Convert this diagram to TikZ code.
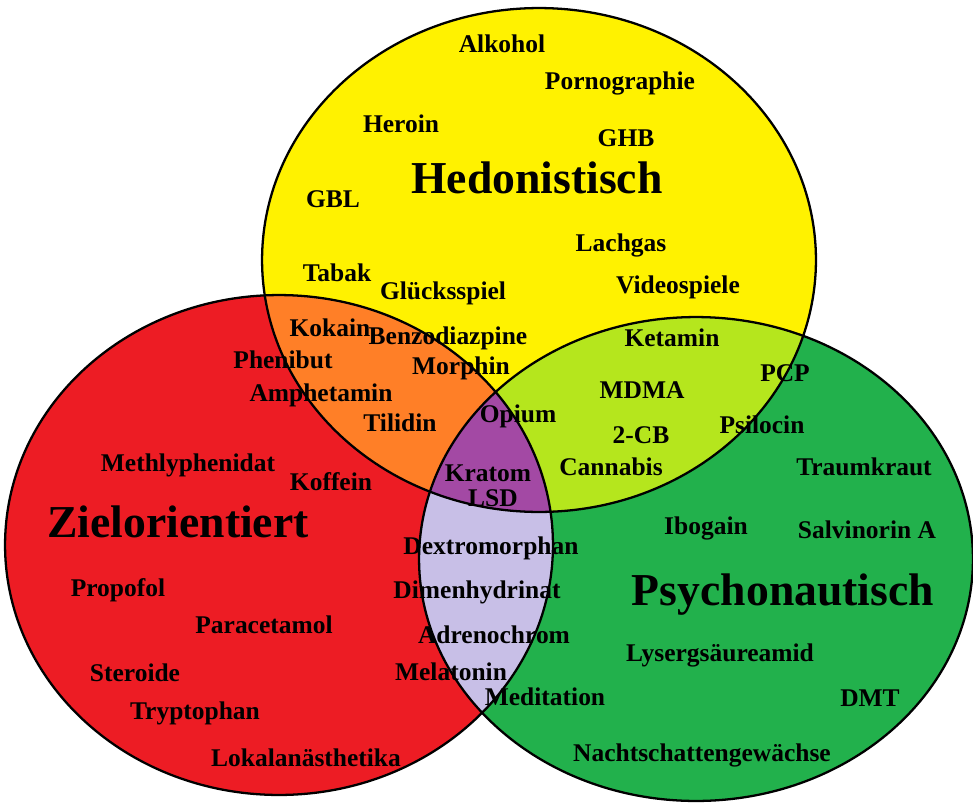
\documentclass[tikz,border=0pt]{standalone}
\usepackage{fontspec}
\setmainfont{Liberation Serif}
\definecolor{hedyellow}{RGB}{255,242,0}
\definecolor{zielred}{RGB}{237,28,36}
\definecolor{psygreen}{RGB}{34,177,76}
\definecolor{hzorange}{RGB}{255,127,39}
\definecolor{hplime}{RGB}{181,230,29}
\definecolor{zplavender}{RGB}{200,191,231}
\definecolor{allpurple}{RGB}{163,73,164}

\begin{document}
\begin{tikzpicture}[
		x=0.02cm, y=-0.02cm,
		every node/.style={font=\fontsize{14.5}{16}\selectfont\bfseries, inner sep=0pt},
		title/.style={font=\fontsize{26}{28}\selectfont\bfseries},
		hring/.style={x radius=5.54cm, y radius=5.04cm},
		zring/.style={x radius=5.48cm, y radius=5.0cm},
		pring/.style={x radius=5.54cm, y radius=4.84cm}
	]
  \useasboundingbox (0,0) rectangle (973,805);
  \coordinate (hc) at (539,260);
  \coordinate (zc) at (279,545);
  \coordinate (pc) at (696,559);
  % base colours
  \fill[zielred] (zc) ellipse [zring];
  \fill[hedyellow] (hc) ellipse [hring];
  \fill[psygreen] (pc) ellipse [pring];
  % overlaps
  \begin{scope}
    \clip (zc) ellipse [zring];
    \fill[hzorange] (hc) ellipse [hring];
    \fill[zplavender] (pc) ellipse [pring];
  \end{scope}
  \begin{scope}
    \clip (hc) ellipse [hring];
    \fill[hplime] (pc) ellipse [pring];
    \clip (zc) ellipse [zring];
    \fill[allpurple] (pc) ellipse [pring];
  \end{scope}

  % hedonistisch
  \node (hed) [title] at (537,178) {Hedonistisch};
  \node (alkohol) at (502,44) {Alkohol};
  \node (porno) at (620,83) {Pornographie};
  \node (heroin) at (401,124) {Heroin};
  \node (ghb) at (626,138) {GHB};
  \node (gbl) at (333,199) {GBL};
  \node (lachgas) at (621,245) {Lachgas};
  \node (tabak) at (337,273) {Tabak};
  \node (videosp) at (678,287) {Videospiele};
  \node (gluecks) at (443,293) {Glücksspiel};
  % hedonistisch + zielorientiert
  \node (kokain) at (330,328) {Kokain};
  \node (benzo) at (448,338) {Benzodiazpine};
  \node (phenibut) at (283,360) {Phenibut};
  \node (morphin) at (461,368) {Morphin};
  \node (amphet) at (321,395) {Amphetamin};
  \node (tilidin) at (400,423) {Tilidin};
  % alle drei
  \node (opium) at (518,416) {Opium};
  \node (kratom) at (488,473) {Kratom};
  \node (lsd) at (493,498) {LSD};
  % hedonistisch + psychonautisch
  \node (ketamin) at (672,338) {Ketamin};
  \node (pcp) at (785,373) {PCP};
  \node (mdma) at (642,390) {MDMA};
  \node (twocb) at (641,435) {2-CB};
  \node (psilocin) at (762,425) {Psilocin};
  \node (cannabis) at (611,467) {Cannabis};
  % psychonautisch
  \node (psy) [title] at (783,595) {Psychonautisch};
  \node (traum) at (864,467) {Traumkraut};
  \node (ibogain) at (706,528) {Ibogain};
  \node (salvin) at (867,530) {Salvinorin A};
  \node (lyserg) at (720,655) {Lysergsäureamid};
  \node (dmt) at (870,698) {DMT};
  \node (medit) at (545,697) {Meditation};
  \node (nacht) at (702,755) {Nachtschattengewächse};
  % zielorientiert + psychonautisch
  \node (dextro) at (491,548) {Dextromorphan};
  \node (dimen) at (477,592) {Dimenhydrinat};
  \node (adreno) at (494,635) {Adrenochrom};
  \node (melat) at (451,672) {Melatonin};
  % zielorientiert
  \node (ziel) [title] at (178,522) {Zielorientiert};
  \node (methly) at (188,465) {Methlyphenidat};
  \node (koffein) at (331,482) {Koffein};
  \node (propofol) at (118,590) {Propofol};
  \node (parac) at (264,625) {Paracetamol};
  \node (steroide) at (135,673) {Steroide};
  \node (trypto) at (195,713) {Tryptophan};
  \node (lokal) at (306,758) {Lokalanästhetika};

  % outlines
  \draw[line width=1.3pt] (zc) ellipse [zring];
  \draw[line width=1.3pt] (hc) ellipse [hring];
  \draw[line width=1.3pt] (pc) ellipse [pring];
\end{tikzpicture}
\end{document}
